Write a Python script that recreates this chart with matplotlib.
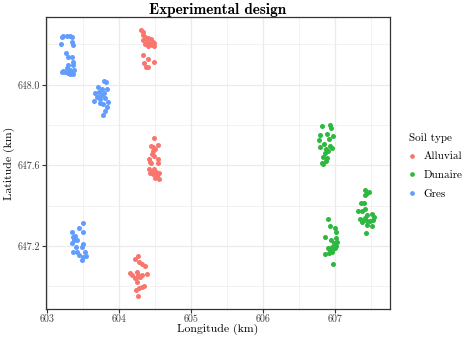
import matplotlib
matplotlib.use("Agg")
import matplotlib.pyplot as plt
from matplotlib.lines import Line2D

plt.rcParams['font.family'] = ['cmr10', 'DejaVu Serif']
plt.rcParams['axes.formatter.use_mathtext'] = True
plt.rcParams['mathtext.fontset'] = 'cm'

soil_types = ["Alluvial", "Dunaire", "Gres"]
colors = {"Alluvial": "#F8766D", "Dunaire": "#2DB83F", "Gres": "#619CFF"}

# Gres
gres_lon = [603.20, 603.22, 603.27, 603.32, 603.34, 603.19, 603.34, 603.35, 603.26, 603.29,
            603.34, 603.36, 603.35, 603.29, 603.27, 603.32, 603.20, 603.25, 603.29, 603.34,
            603.37, 603.32, 603.36, 603.22,
            603.792, 603.815, 603.700, 603.756, 603.825, 603.662, 603.722, 603.788, 603.686, 603.653,
            603.732, 603.801, 603.847, 603.732, 603.778, 603.825, 603.801, 603.778, 603.708, 603.756,
            603.500, 603.444, 603.339, 603.500, 603.385, 603.353, 603.417, 603.339, 603.500, 603.478,
            603.361, 603.417, 603.524, 603.444, 603.492, 603.538, 603.478, 603.371, 603.399]
gres_lat = [648.238, 648.241, 648.241, 648.241, 648.238, 648.200, 648.213, 648.197, 648.159, 648.136,
            648.136, 648.114, 648.098, 648.098, 648.081, 648.073, 648.064, 648.064, 648.059, 648.059,
            648.073, 648.053, 648.053, 648.069,
            648.018, 648.015, 647.987, 647.977, 647.977, 647.960, 647.965, 647.957, 647.941, 647.921,
            647.928, 647.933, 647.916, 647.908, 647.904, 647.888, 647.871, 647.850, 647.941, 647.949,
            647.313, 647.288, 647.271, 647.271, 647.250, 647.243, 647.230, 647.214, 647.210, 647.194,
            647.172, 647.172, 647.172, 647.156, 647.147, 647.151, 647.131, 647.230, 647.194]

# Alluvial
alluvial_lon = [604.297, 604.325, 604.333, 604.357, 604.381, 604.325, 604.403, 604.436, 604.464, 604.482,
                604.450, 604.403, 604.357, 604.426, 604.482, 604.325, 604.403, 604.482, 604.343, 604.371,
                604.403, 604.381,
                604.486, 604.440, 604.472, 604.533, 604.500, 604.464, 604.454, 604.486, 604.533, 604.408,
                604.426, 604.440, 604.533, 604.408, 604.440, 604.486, 604.510, 604.464, 604.519, 604.556,
                604.500, 604.547, 604.426,
                604.264, 604.218, 604.278, 604.311, 604.357, 604.149, 604.172, 604.242, 604.264, 604.242,
                604.311, 604.381, 604.218, 604.250, 604.311, 604.278, 604.232, 604.343, 604.264, 604.288]
alluvial_lat = [648.271, 648.263, 648.246, 648.235, 648.225, 648.222, 648.230, 648.225, 648.213, 648.205,
                648.197, 648.192, 648.202, 648.208, 648.192, 648.147, 648.127, 648.114, 648.106, 648.089,
                648.086, 648.208,
                647.734, 647.698, 647.690, 647.701, 647.680, 647.673, 647.656, 647.647, 647.630, 647.630,
                647.618, 647.610, 647.610, 647.581, 647.574, 647.581, 647.569, 647.557, 647.547, 647.561,
                647.536, 647.531, 647.564,
                647.151, 647.134, 647.122, 647.111, 647.101, 647.068, 647.057, 647.073, 647.057, 647.045,
                647.057, 647.061, 647.040, 647.023, 646.998, 646.991, 646.982, 647.002, 646.954, 647.045]

# Dunaire
dunaire_lon = [606.811, 606.926, 606.940, 606.788, 606.889, 606.972, 606.778, 606.843, 606.926, 606.788,
               606.950, 606.903, 606.857, 606.833, 606.881, 606.811, 606.917, 606.871, 606.825, 606.871,
               606.894, 606.926, 606.996, 607.010, 606.857, 606.936, 607.010, 607.019, 606.982, 606.950,
               606.926, 606.972, 607.010, 606.857, 606.917, 606.950, 606.996, 606.964, 606.903,
               607.413, 607.444, 607.472, 607.413, 607.353, 607.399, 607.319, 607.367, 607.413, 607.444,
               607.343, 607.389, 607.436, 607.506, 607.537, 607.519, 607.367, 607.444, 607.506, 607.426,
               607.482, 607.413]
dunaire_lat = [647.795, 647.800, 647.784, 647.751, 647.756, 647.746, 647.726, 647.706, 647.696, 647.690,
               647.685, 647.673, 647.663, 647.643, 647.635, 647.610, 647.729, 647.680, 647.607, 647.623,
               647.334, 647.301, 647.288, 647.271, 647.243, 647.230, 647.238, 647.222, 647.214, 647.194,
               647.180, 647.184, 647.200, 647.159, 647.164, 647.172, 647.189, 647.111, 647.189,
               647.478, 647.465, 647.467, 647.453, 647.412, 647.412, 647.374, 647.374, 647.382, 647.354,
               647.333, 647.329, 647.324, 647.359, 647.346, 647.329, 647.321, 647.304, 647.301, 647.263,
               647.324, 647.338]

data = {"Alluvial": (alluvial_lon, alluvial_lat),
        "Dunaire": (dunaire_lon, dunaire_lat),
        "Gres": (gres_lon, gres_lat)}

fig = plt.figure(figsize=(4.69, 3.37), dpi=100)
ax = fig.add_axes([0.0981, 0.0831, 0.7329, 0.8665])

for s in soil_types:
    lon, lat = data[s]
    ax.scatter(lon, lat, s=13, color=colors[s], linewidths=0, zorder=3)

ax.set_xlim(602.98, 607.755)
ax.set_ylim(646.888, 648.336)
ax.set_yticks([647.2, 647.6, 648.0])
ax.set_yticklabels(["647.2", "647.6", "648.0"])
ax.set_xticks([603, 604, 605, 606, 607])
ax.set_xticklabels(["603", "604", "605", "606", "607"])
ax.set_xticks([603.5, 604.5, 605.5, 606.5, 607.5], minor=True)
ax.set_yticks([647.0, 647.4, 647.8, 648.2], minor=True)

ax.grid(True, which='major', color='#EBEBEB', linewidth=0.9, zorder=0)
ax.grid(True, which='minor', color='#EBEBEB', linewidth=0.45, zorder=0)
ax.set_axisbelow(True)
for sp in ax.spines.values():
    sp.set_color('#333333')
    sp.set_linewidth(0.9)
ax.tick_params(which='major', length=2.8, width=0.8, color='#333333', labelsize=7.2,
               labelcolor='#404040', pad=1.5)
ax.tick_params(which='minor', length=0)

ax.set_xlabel("Longitude (km)", fontsize=8.5)
ax.xaxis.set_label_coords(0.5, -0.05)
ax.set_ylabel("Latitude (km)", fontsize=8.5)
ax.yaxis.set_label_coords(-0.09, 0.5)
ax.set_title("Experimental design", fontsize=11, fontfamily='cmb10', pad=2)

handles = [Line2D([0], [0], marker='o', linestyle='', markersize=3.4,
                  markerfacecolor=colors[s], markeredgewidth=0) for s in soil_types]
leg = fig.legend(handles, soil_types, title="Soil type", loc='upper left',
                 bbox_to_anchor=(0.872, 0.606), frameon=False, fontsize=8,
                 title_fontsize=8, handletextpad=0.7, labelspacing=0.8,
                 handlelength=0.6, borderaxespad=0, borderpad=0)
leg._legend_box.align = "left"

fig.savefig("out.png", dpi=100)
